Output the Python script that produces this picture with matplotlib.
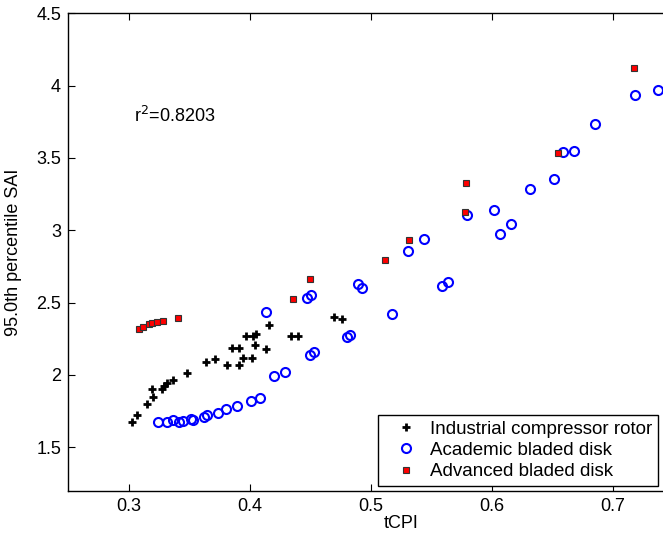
import matplotlib
matplotlib.use("Agg")
import matplotlib.pyplot as plt

plt.rcParams['font.family'] = ['Liberation Sans', 'DejaVu Sans']

ind_x = [0.3026, 0.3073, 0.3150, 0.3205, 0.3197, 0.3274, 0.3293, 0.3321, 0.3370, 0.3481,
         0.3640, 0.3715, 0.3812, 0.3916, 0.3949, 0.4018, 0.3853, 0.3912, 0.3971, 0.4031,
         0.4054, 0.4043, 0.4139, 0.4160, 0.4343, 0.4403, 0.4698, 0.4764]
ind_y = [1.677, 1.723, 1.799, 1.845, 1.902, 1.902, 1.921, 1.943, 1.966, 2.017,
         2.090, 2.109, 2.070, 2.070, 2.117, 2.117, 2.185, 2.185, 2.270, 2.268,
         2.281, 2.209, 2.178, 2.346, 2.270, 2.268, 2.401, 2.385]

aca_x = [0.3246, 0.3316, 0.3365, 0.3417, 0.3448, 0.3517, 0.3531, 0.3626, 0.3646, 0.3742,
         0.3806, 0.3894, 0.4010, 0.4087, 0.4204, 0.4295, 0.4139, 0.4473, 0.4506, 0.4500,
         0.4533, 0.4803, 0.4831, 0.4894, 0.4931, 0.5178, 0.5588, 0.5638, 0.5312, 0.5442,
         0.5800, 0.6021, 0.6159, 0.6070, 0.6318, 0.6517, 0.6593, 0.6682, 0.6855, 0.7184,
         0.7376]
aca_y = [1.677, 1.672, 1.690, 1.677, 1.683, 1.695, 1.690, 1.707, 1.725, 1.734,
         1.766, 1.783, 1.823, 1.842, 1.995, 2.018, 2.433, 2.530, 2.550, 2.137,
         2.159, 2.259, 2.274, 2.631, 2.601, 2.424, 2.614, 2.642, 2.854, 2.939,
         3.104, 3.137, 3.042, 2.971, 3.288, 3.352, 3.539, 3.546, 3.737, 3.934,
         3.971]

adv_x = [0.3089, 0.3117, 0.3172, 0.3194, 0.3233, 0.3288, 0.3412, 0.4362, 0.4500, 0.5120,
         0.5318, 0.5784, 0.5792, 0.6547, 0.7175]
adv_y = [2.316, 2.332, 2.355, 2.359, 2.366, 2.373, 2.397, 2.528, 2.665, 2.792,
         2.932, 3.128, 3.328, 3.534, 4.125]

labels = ['Industrial compressor rotor', 'Academic bladed disk', 'Advanced bladed disk']
r2_text = 'r$^2$=0.8203'

fig = plt.figure(figsize=(6.63, 5.35), dpi=100)
W, H = 663, 535
left, right, top, bottom = 68, 733.5, 13.3, 490.7
ax = fig.add_axes([left / W, 1 - bottom / H, (right - left) / W, (bottom - top) / H])

ax.plot(ind_x, ind_y, linestyle='none', marker='+', color='black', markersize=6, mew=2, label=labels[0])
ax.plot(aca_x, aca_y, linestyle='none', marker='o', mfc='none', mec='#0000ff', markersize=6.5, mew=1.5, label=labels[1])
ax.plot(adv_x, adv_y, linestyle='none', marker='s', mfc='#ff0000', mec='#333333', markersize=5, mew=0.8, label=labels[2])

ax.set_xlim(0.25, 0.8)
ax.set_ylim(1.2, 4.5)
ax.set_xticks([0.3, 0.4, 0.5, 0.6, 0.7])
ax.set_xticklabels(['0.3', '0.4', '0.5', '0.6', '0.7'])
ax.set_yticks([1.5, 2, 2.5, 3, 3.5, 4, 4.5])
ax.set_yticklabels(['1.5', '2', '2.5', '3', '3.5', '4', '4.5'])
ax.tick_params(direction='in', top=True, right=True, length=5, width=0.8, labelsize=13, pad=5)
for s in ax.spines.values():
    s.set_linewidth(1.0)

ax.set_xlabel('tCPI', fontsize=13, labelpad=0)
ax.set_ylabel('95.0th percentile SAI', fontsize=13, labelpad=10)

ax.text(0.3045, 3.79, r2_text, fontsize=13, ha='left', va='center')

leg = ax.legend(loc='upper left', bbox_to_anchor=(378 / W, 1 - 415 / H), bbox_transform=fig.transFigure,
                fontsize=13.5, frameon=True, fancybox=False, edgecolor='black', framealpha=1,
                handletextpad=0.1, labelspacing=0.22, borderpad=0.3, handlelength=2.4, borderaxespad=0)
leg.get_frame().set_linewidth(1.0)

fig.savefig('out.png', dpi=100)
